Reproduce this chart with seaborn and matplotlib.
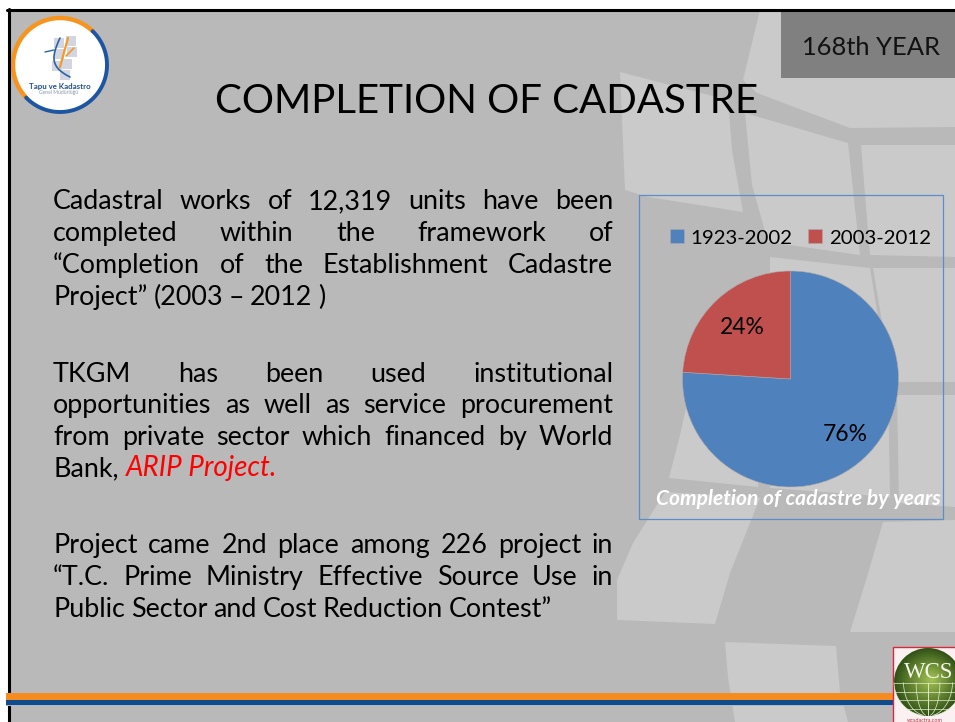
import numpy as np
import seaborn as sns
import matplotlib.pyplot as plt
from matplotlib.patches import Polygon, Rectangle, Circle

# data
periods = ['1923-2002', '2003-2012']
shares = [76, 24]
pie_colors = ['#4f81bd', '#c0504d']

title = 'COMPLETION OF CADASTRE'
year_tag = '168th YEAR'
caption = 'Completion of cadastre by years'

para_1 = ['Cadastral works of 12,319 units have been',
          'completed within the framework of',
          '“Completion of the Establishment Cadastre',
          'Project” (2003 – 2012 )']
para_2 = ['TKGM has been used institutional',
          'opportunities as well as service procurement',
          'from private sector which financed by World']
para_2_end = 'Bank,'
para_2_red = 'ARIP Project.'
para_3 = ['Project came 2nd place among 226 project in',
          '“T.C. Prime Ministry Effective Source Use in',
          'Public Sector and Cost Reduction Contest”']

sns.set_theme(style='white')
plt.rcParams['font.family'] = ['Lato', 'DejaVu Sans']

BASE = '#b9b9b9'
LIGHT = '#cacaca'

fig = plt.figure(figsize=(9.55, 7.22), dpi=100, facecolor='white')

# slide drawn in pixel units
bg = fig.add_axes([0, 0, 1, 1])
bg.set_xlim(0, 955)
bg.set_ylim(722, 0)
bg.axis('off')
renderer = fig.canvas.get_renderer()

bg.add_patch(Rectangle((8, 10), 950, 715, fc=BASE, ec='none', zorder=0))

# light background cells
cells = [
    [(620, 72), (728, 100), (732, 150), (743, 212), (648, 197), (625, 190)],
    [(745, 113), (848, 143), (860, 255), (768, 242), (752, 185)],
    [(760, 10), (955, 10), (955, 127), (850, 128), (757, 93), (743, 80)],
    [(861, 145), (955, 145), (955, 257), (870, 255)],
    [(873, 268), (955, 268), (955, 382), (892, 382)],
    [(897, 395), (955, 395), (955, 507), (899, 503)],
    [(770, 257), (870, 268), (888, 380), (890, 497), (770, 488)],
    [(690, 390), (680, 435), (669, 478), (758, 487), (775, 300)],
    [(665, 492), (760, 498), (730, 573), (715, 624), (617, 620), (617, 580), (633, 543)],
    [(883, 522), (955, 520), (955, 632), (850, 632), (867, 577)],
    [(725, 642), (836, 646), (840, 692), (848, 722), (735, 722), (728, 677)],
]
for c in cells:
    bg.add_patch(Polygon(c, closed=True, fc=LIGHT, ec='none', zorder=1))

# frame, tag box, footer stripes
bg.plot([8.5, 8.5], [9, 722], color='black', lw=2.2, zorder=6)
bg.plot([7, 955], [9.5, 9.5], color='black', lw=2.2, zorder=6)
bg.add_patch(Rectangle((781, 11), 174, 67, fc='#808080', ec='none', zorder=2))
bg.add_patch(Rectangle((6, 693), 887, 6.5, fc='#f68b1f', ec='none', zorder=7))
bg.add_patch(Rectangle((6, 699.5), 887, 5.5, fc='#0f4c8a', ec='none', zorder=7))
bg.add_patch(Rectangle((6, 705), 887, 1.2, fc='#a9b8d2', ec='none', zorder=7))


def fit(txt, width):
    # scale font so the text spans the wanted pixel width
    w = txt.get_window_extent(renderer).width
    txt.set_fontsize(txt.get_fontsize() * width / w)
    return txt


def justified(line, y, size, x0=53, x1=613, stretch=True):
    words = line.split(' ')
    items = [bg.text(0, y, w, fontsize=size, color='black', va='baseline', zorder=5) for w in words]
    widths = [t.get_window_extent(renderer).width for t in items]
    space = size * 100 / 72 * 0.22
    if stretch and len(words) > 1:
        space = (x1 - x0 - sum(widths)) / (len(words) - 1)
    x = x0
    for t, w in zip(items, widths):
        t.set_x(x)
        x += w + space
    return x


fit(bg.text(487, 113, title, color='black', fontsize=32, ha='center', va='baseline', zorder=5), 545)
fit(bg.text(871, 55, year_tag, color='#111111', fontsize=17, ha='center', va='baseline', zorder=5), 138)

# body font size taken from a natural-width line
probe = fit(bg.text(53, 616, para_3[2], fontsize=18, alpha=0), 502)
body = probe.get_fontsize()
probe.remove()

for line, y in zip(para_1, [209, 241, 273, 305]):
    justified(line, y, body, stretch=line != para_1[3])
for line, y in zip(para_2, [382, 413, 445]):
    justified(line, y, body)
end_x = justified(para_2_end, 476, body, stretch=False)
fit(bg.text(126, 476, para_2_red, fontsize=body, color='#ff0000', style='italic', va='baseline', zorder=5), 151)
for line, y in zip(para_3, [553, 585, 617]):
    justified(line, y, body, stretch=line != para_3[2])

# chart panel
bg.add_patch(Rectangle((638.5, 194.5), 304, 324, fc='none', ec='#5b8dcb', lw=0.9, zorder=4))

ax = fig.add_axes([682.5 / 955, (722 - 487) / 722, 216 / 955, 216 / 722])
ax.patch.set_alpha(0)
wedges, _, pct = ax.pie(shares, colors=sns.color_palette(pie_colors), startangle=90, counterclock=False,
                        autopct='%d%%', pctdistance=0.7, radius=1,
                        wedgeprops={'edgecolor': '#b0a8a8', 'linewidth': 0.4},
                        textprops={'fontsize': 16.5, 'color': 'black'})
ax.set_xlim(-1, 1)
ax.set_ylim(-1, 1)
# nudge labels to where the reference has them
pct[0].set_position((pct[0].get_position()[0] + 0.03, pct[0].get_position()[1]))
pct[1].set_position((pct[1].get_position()[0] + 0.03, pct[1].get_position()[1] - 0.03))

fig.legend(wedges, periods, loc='center', bbox_to_anchor=(800.5 / 955, (722 - 238) / 722), ncol=2,
           frameon=False, fontsize=14.7, handlelength=0.68, handleheight=0.68,
           handletextpad=0.35, columnspacing=0.75, labelcolor='black')

fit(bg.text(798.5, 505, caption, color='white', fontsize=14, fontweight='bold', style='italic',
            ha='center', va='baseline', zorder=5), 285)

# logo
lx, ly, lr = 60, 65, 47
bg.add_patch(Circle((lx, ly), lr, fc='white', ec='none', zorder=3))
t = np.radians(np.linspace(46, 224, 80))
bg.plot(lx + lr * np.cos(t), ly - lr * np.sin(t), color='#f6941e', lw=3.2, zorder=4)
t = np.radians(np.linspace(46, -136, 80))
bg.plot(lx + lr * np.cos(t), ly - lr * np.sin(t), color='#1d55a3', lw=2.8, zorder=4)
for sx, sy in [(54, 38), (66, 36), (54, 49), (67, 47), (62, 59), (52, 61), (60, 70)]:
    bg.add_patch(Rectangle((sx, sy), 10, 10, fc='#d3d6e0', ec='none', zorder=4))
s = np.linspace(0, 1, 40)
bg.plot(60 - 14 * s + 4 * s ** 2 + 20 * s ** 6, 38 + 30 * s + 9 * s ** 3, color='#2a63a8', lw=1.2, zorder=5)
bg.plot(45 + 9 * s, 52 - 2 * s, color='#2a63a8', lw=1.0, zorder=5)
bg.plot(68 - 8 * s, 38 + 29 * s, color='#f39a2c', lw=1.6, zorder=5)
bg.plot(66 + 8 * s, 56 - 8 * s, color='#f39a2c', lw=1.2, zorder=5)
fit(bg.text(59.5, 87, 'Tapu ve Kadastro', fontsize=6, fontweight='bold', color='#1d4f8f', ha='center', va='center', zorder=5), 62)
bg.text(59, 92.5, 'Genel Müdürlüğü', fontsize=3.6, color='#8a93a8', ha='center', va='center', zorder=5)

# WCS badge
bg.add_patch(Rectangle((892.5, 646.5), 70, 80, fc='#fbf0f2', ec='#d8283c', lw=1, zorder=8))
gx, gy, gr = 928, 682, 34
for k in range(14):
    f = 1 - k / 14
    g = np.array([0.20, 0.33, 0.09]) * f + np.array([0.66, 0.78, 0.34]) * (1 - f)
    bg.add_patch(Circle((gx + 4 * (1 - f), gy - 3 * (1 - f)), gr * f, fc=g, ec='none', zorder=9))
# grid on the lower half only
a = np.linspace(0.02, 0.98, 30)
for dx in [0, 0.35, 0.72, 1.0]:
    bg.plot(gx + dx * gr * np.sqrt(1 - a ** 2), gy + a * gr, color='#e4eed0', lw=0.5, zorder=10)
    bg.plot(gx - dx * gr * np.sqrt(1 - a ** 2), gy + a * gr, color='#e4eed0', lw=0.5, zorder=10)
for a0 in [0.02, 0.28, 0.54, 0.78]:
    hw = gr * np.sqrt(1 - a0 ** 2)
    bg.plot([gx - hw, gx + hw], [gy + a0 * gr] * 2, color='#e4eed0', lw=0.5, zorder=10)
bg.text(904, 678, 'WCS', family='Liberation Serif', fontsize=16.5, color='#f4f7ea', ha='left', va='baseline', zorder=11)
bg.text(925, 720, 'wcsdactra.com', fontsize=4, color='#c03040', ha='center', va='center', zorder=11)

fig.savefig('out.png', dpi=100)
